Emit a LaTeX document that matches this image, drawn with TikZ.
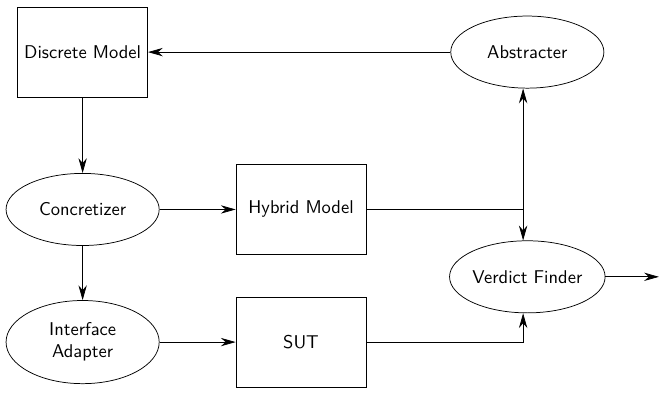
\documentclass[tikz,border=0pt]{standalone}
\usetikzlibrary{shapes,arrows.meta}

\begin{document}
\begin{tikzpicture}[font=\sffamily,
  block/.style={draw, rectangle, minimum width=2.47cm, minimum height=1.71cm},
  proc/.style={draw, ellipse, minimum width=2.91cm, minimum height=1.37cm, inner sep=0pt},
  flow/.style={-{Stealth[length=8pt,width=4.5pt]}}]
\useasboundingbox (0,0) rectangle (12.56,-7.45);
\node[block] (discrete) at (1.57,-0.99) {Discrete Model};
\node[proc] (abstracter) at (10.02,-0.99) {Abstracter};
\node[proc] (concretizer) at (1.57,-3.98) {Concretizer};
\node[block] (hybrid) at (5.72,-3.98) {Hybrid Model};
\node[proc, minimum height=1.58cm, align=center] (adapter) at (1.57,-6.5) {Interface\\Adapter};
\node[block] (sut) at (5.72,-6.5) {SUT};
\node[proc] (verdict) at (10.02,-5.26) {Verdict Finder};
\coordinate (split) at (9.94,-3.98);
\coordinate (out) at (12.52,-5.26);
% main loop
\draw[flow] (abstracter) -- (discrete);
\draw[flow] (discrete) -- (concretizer);
\draw[flow] (concretizer) -- (hybrid);
\draw[flow] (concretizer) -- (adapter);
\draw[flow] (adapter) -- (sut);
% hybrid output goes both ways
\draw (hybrid) -- (split);
\draw[flow] (split) -- (split |- abstracter.south);
\draw[flow] (split) -- (split |- verdict.north);
\draw[flow] (sut.east) -| (split |- verdict.south);
\draw[flow] (verdict) -- (out);
\end{tikzpicture}
\end{document}
